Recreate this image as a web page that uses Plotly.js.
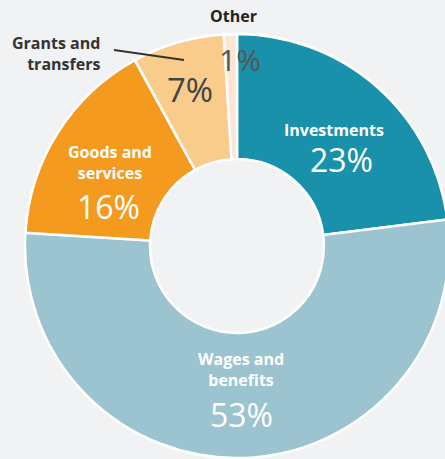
<!DOCTYPE html>
<html>
<head>
<meta charset="utf-8">
<script src="https://cdn.plot.ly/plotly-3.0.1.min.js"></script>
<style>
html,body{margin:0;padding:0;background:#f1f2f4;overflow:hidden;width:445px;height:459px;}
#chart{width:460px;height:459px;}
</style>
</head>
<body>
<div id="chart"></div>
<script>
// Data
const categories = ["Investments", "Wages and benefits", "Goods and services", "Grants and transfers", "Other"];
const displayLabels = ["Investments", "Wages and<br>benefits", "Goods and<br>services", "Grants and<br>transfers", "Other"];
const shares = [23, 53, 16, 7, 1];
const colors = ["#1a91aa", "#9bc4d0", "#f39a1f", "#f9cc8c", "#fde5d3"];

const W = 460, H = 459;
const px = x => x / W;
const py = y => 1 - y / H;

const trace = {
  type: "pie",
  labels: categories,
  values: shares,
  sort: false,
  direction: "clockwise",
  rotation: 0,
  hole: 0.41,
  textinfo: "none",
  hoverinfo: "label+percent",
  marker: { colors: colors, line: { color: "#ffffff", width: 2.5 } },
  domain: { x: [px(25), px(449)], y: [py(458), py(34)] },
  showlegend: false
};

const pct = v => v + "%";
const boldFont = (c, s) => ({ family: "Open Sans, sans-serif", size: s, color: c, weight: 700 });
const regFont = (c, s) => ({ family: "Open Sans, sans-serif", size: s, color: c });

const ann = (text, x, y, font, extra) => Object.assign({
  text: text, x: px(x), y: py(y), xref: "paper", yref: "paper",
  showarrow: false, font: font, xanchor: "center", yanchor: "middle"
}, extra || {});

const labelAnchors = [[334, 130], [241, 369], [110, 162], [102, 53], [234, 16]];
const labelColors = ["#ffffff", "#ffffff", "#ffffff", "#333333", "#222222"];
const labelXAnchor = ["center", "center", "center", "right", "center"];
const labelAlign = ["center", "center", "center", "right", "center"];
const pctAnchors = [[341, 159], [242, 414], [108, 207], [190, 89], [240, 60]];
const pctColors = ["#ffffff", "#ffffff", "#ffffff", "#444444", "#555555"];
const pctSizes = [32, 32, 32, 33, 30];

const annotations = [];
displayLabels.forEach((lbl, i) => {
  const a = labelAnchors[i];
  annotations.push(ann("<b>" + lbl + "</b>", a[0], a[1], boldFont(labelColors[i], 16),
    { xanchor: labelXAnchor[i], align: labelAlign[i] }));
  const p = pctAnchors[i];
  annotations.push(ann(pct(shares[i]), p[0], p[1], regFont(pctColors[i], pctSizes[i])));
});

const layout = {
  width: W, height: H,
  margin: { l: 0, r: 0, t: 0, b: 0, pad: 0 },
  paper_bgcolor: "#f1f2f4",
  plot_bgcolor: "#f1f2f4",
  annotations: annotations,
  shapes: [{
    type: "line", xref: "paper", yref: "paper",
    x0: px(114), y0: py(50), x1: px(184), y1: py(60),
    line: { color: "#333333", width: 2 }
  }]
};

Plotly.newPlot("chart", [trace], layout, { displayModeBar: false, staticPlot: true });
</script>
</body>
</html>
